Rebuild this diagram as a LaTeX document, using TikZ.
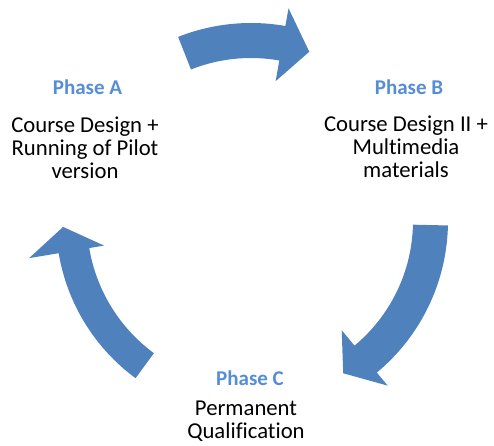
\documentclass[tikz,border=0pt]{standalone}
\usepackage{fontspec}
\setmainfont{Carlito}[Ligatures=CommonOff]
\definecolor{arrowblue}{RGB}{79,129,189}
\definecolor{phaseblue}{RGB}{85,142,213}
\tikzset{
  cyclearrow/.style={fill=arrowblue, draw=none},
  phaselabel/.style={font=\fontsize{21}{22}\selectfont\bfseries, text=phaseblue, inner sep=0pt, anchor=base},
  desclabel/.style={font=\fontsize{22.7}{23}\selectfont, text=black, align=center, inner sep=0pt, anchor=base},
}
\begin{document}
\begin{tikzpicture}[x=1pt,y=1pt]
\useasboundingbox (0,0) rectangle (494,445);
\coordinate (c) at (251,224);
\begin{scope}[shift={(c)}]
  % top arrow: tail 111.6, head base 80, tip 71
  \fill[cyclearrow] (111.6:198) arc[start angle=111.6, end angle=80, radius=198]
     -- (80:216) -- (71:179) -- (80:142) -- (80:163)
     arc[start angle=80, end angle=111.6, radius=163] -- cycle;
  % right arrow
  \fill[cyclearrow] (-1.3:197) arc[start angle=-1.3, end angle=-50.3, radius=197]
     -- (-50.3:214) -- (-58.8:178) -- (-50.3:142) -- (-50.3:162)
     arc[start angle=-50.3, end angle=-1.3, radius=162] -- cycle;
  % left arrow
  \fill[cyclearrow] (233.7:195) arc[start angle=233.7, end angle=189.5, radius=195]
     -- (189.5:225) -- (181.8:188) -- (189.5:149) -- (189.5:164)
     arc[start angle=189.5, end angle=233.7, radius=164] -- cycle;
\end{scope}
\node[phaselabel] (pa) at (87.5,350) {Phase A};
\node[phaselabel] (pb) at (409,350) {Phase B};
\node[phaselabel] (pc) at (250,60) {Phase C};
\node[desclabel] (da) at (85,267) {Course Design +\\Running of Pilot\\version};
\node[desclabel] (db) at (406,268) {Course Design II +\\Multimedia\\materials};
\node[desclabel] (dc) at (246,7) {Permanent\\Qualification};
\end{tikzpicture}
\end{document}
